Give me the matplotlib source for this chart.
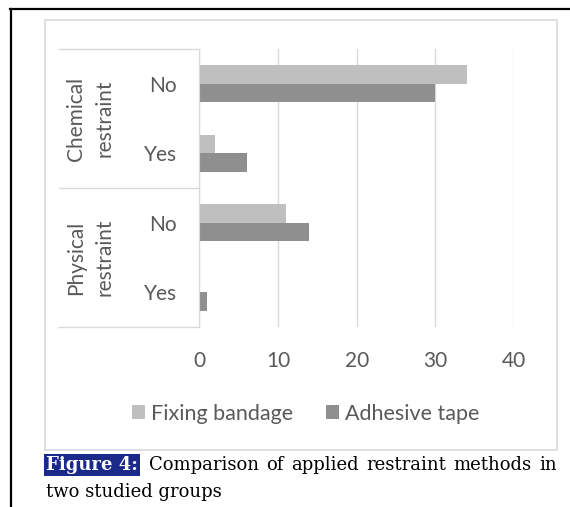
import numpy as np
import matplotlib.pyplot as plt
from matplotlib.patches import Rectangle
from matplotlib.lines import Line2D

# data
categories = ['No', 'Yes', 'No', 'Yes']
groups = ['Chemical\nrestraint', 'Physical\nrestraint']
fixing_bandage = [34, 2, 11, 0]
adhesive_tape = [30, 6, 14, 1]
xticks = [0, 10, 20, 30, 40]
caption_head = 'Figure 4:'
caption_line1 = 'Comparison of applied restraint methods in'
caption_line2 = 'two studied groups'

W, H = 570, 507
GRID = '#D9D9D9'
TXT = '#595959'

plt.rcParams['font.family'] = ['Lato', 'DejaVu Sans']

fig = plt.figure(figsize=(W / 100, H / 100), dpi=100)
# plot area in pixel terms: x 199..514, y 49..327
ax = fig.add_axes([199.3 / W, 1 - 327 / H, 314.7 / W, 278 / H])

y = np.arange(len(categories))
h = 0.263
b1 = ax.barh(y - h / 2, fixing_bandage, height=h, color='#BFBFBF',
             label='Fixing bandage')
b2 = ax.barh(y + h / 2, adhesive_tape, height=h, color='#8F8F8F',
             label='Adhesive tape')

ax.set_xlim(xticks[0], xticks[-1])
ax.set_ylim(len(categories) - 0.5, -0.5)
ax.set_xticks(xticks)
ax.set_yticks(y, categories)
ax.grid(axis='x', color=GRID, lw=1)
ax.set_axisbelow(True)
for s in ('top', 'right', 'bottom'):
    ax.spines[s].set_visible(False)
ax.spines['left'].set_color(GRID)
ax.tick_params(axis='x', length=0, pad=17, labelsize=15, labelcolor=TXT)
ax.tick_params(axis='y', length=0, pad=16, labelsize=15, labelcolor=TXT)

# multi-level category axis: group labels and dividers
tr = ax.get_yaxis_transform()
left_edge = (59 - 199.3) / 314.7
for i, g in enumerate(groups):
    ax.text((90.5 - 199.3) / 314.7, 2 * i + 0.5, g, rotation=90,
            ha='center', va='center', transform=tr, fontsize=15,
            color=TXT, linespacing=1.55)
for b in (-0.5, 1.5, 3.5):
    ax.plot([left_edge, 0], [b, b], transform=tr, clip_on=False,
            color=GRID, lw=1)

fig.legend(handles=[b1, b2], loc='center',
           bbox_to_anchor=(305.5 / W, 1 - 414 / H), ncol=2, frameon=False,
           fontsize=15.5, handlelength=0.62, handleheight=0.62,
           handletextpad=0.25, columnspacing=1.55, labelcolor=TXT)

# chart frame + page border
fig.add_artist(Rectangle((45 / W, 1 - 450 / H), 512 / W, 430 / H,
                         transform=fig.transFigure, fill=False,
                         edgecolor=GRID, lw=1.2))
fig.add_artist(Line2D([10 / W, 1], [1 - 9 / H] * 2, color='black', lw=1.6))
fig.add_artist(Line2D([11 / W] * 2, [0, 1 - 9 / H], color='black', lw=1.6))

# caption (first line justified to the frame edge)
cap_kw = dict(fontfamily='DejaVu Serif', fontsize=13, color='black',
              va='center')
head = fig.text(46 / W, 1 - 465 / H, caption_head, fontweight='bold',
                fontfamily='DejaVu Serif', fontsize=13, color='white',
                va='center',
                bbox=dict(boxstyle='square,pad=0.1', fc='#1B2A8A', ec='none'))
words = [fig.text(0, 1 - 465 / H, w, **cap_kw) for w in caption_line1.split()]
fig.text(46 / W, 1 - 492 / H, caption_line2, **cap_kw)

fig.canvas.draw()
r = fig.canvas.get_renderer()
x0 = head.get_window_extent(r).x1 + 11
x1 = 557
widths = [t.get_window_extent(r).width for t in words]
gap = (x1 - x0 - sum(widths)) / (len(words) - 1)
x = x0
for t, w in zip(words, widths):
    t.set_x(x / W)
    x += w + gap

fig.savefig('out.png', dpi=100)
